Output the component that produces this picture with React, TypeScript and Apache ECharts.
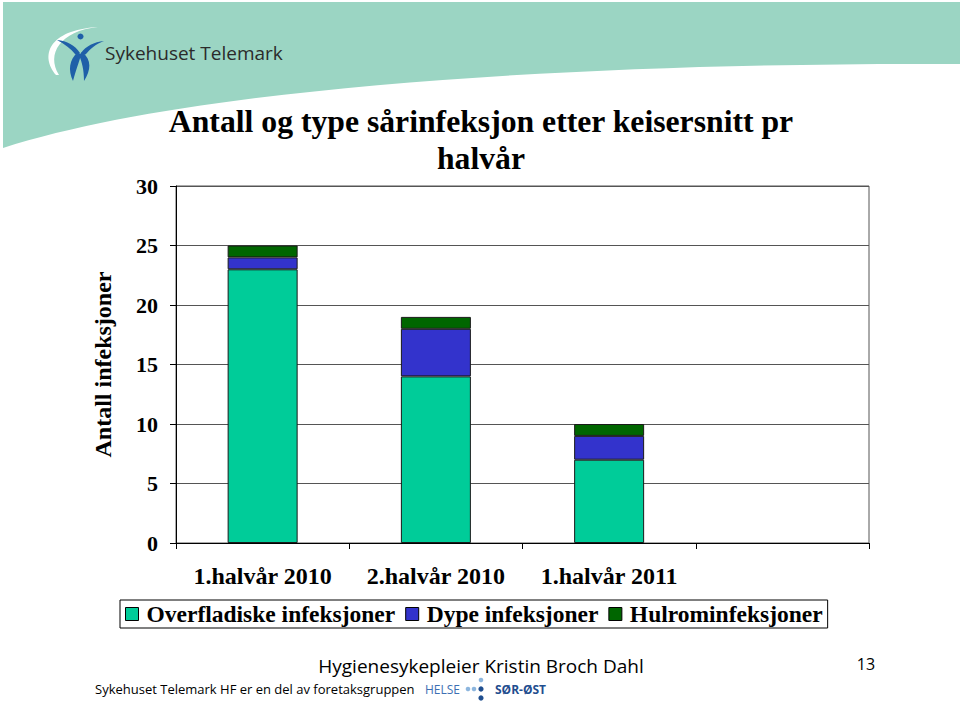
import React, { useEffect, useRef } from "react";
import * as echarts from "echarts";

const categories = ["1.halvår 2010", "2.halvår 2010", "1.halvår 2011", ""];
const seriesNames = ["Overfladiske infeksjoner", "Dype infeksjoner", "Hulrominfeksjoner"];
const overfladiske = [23, 14, 7, null];
const dype = [1, 4, 2, null];
const hulrom = [1, 1, 1, null];
const yTicks = { min: 0, max: 30, interval: 5 };
const colors = ["#00CC99", "#3333CC", "#006600"];

const SERIF = "'Liberation Serif', 'Times New Roman', serif";
const SANS = "'Open Sans', 'Noto Sans', sans-serif";

let registered = false;
function registerShapes() {
  if (registered) return;
  registered = true;
  const shapes: Record<string, string> = {
    band: "M3 2 H960 V64 C 600 62, 200 85, 3 148 Z",
    crescent: "M56 75 C 40 56, 48 30, 98 27 C 60 31, 46 54, 59 75 Z",
    larm: "M57 40 C 67 41, 75 45, 80 53 C 78 55, 76 55, 75 54 C 71 49, 65 44, 57 40 Z",
    rarm: "M104 41 C 94 42, 86 46, 81 53 C 83 55, 85 55, 86 54 C 90 49, 96 44, 104 41 Z",
    lleg: "M78 52 C 69 60, 68 70, 73 81 C 76 70, 79 62, 81 55 Z",
    rleg: "M82 52 C 92 60, 91 70, 84 81 C 84 70, 82 62, 79 55 Z",
  };
  Object.keys(shapes).forEach((k) => {
    echarts.graphic.registerShape(k, echarts.graphic.extendPath(shapes[k], {}) as any);
  });
}

export default function App() {
  const ref = useRef<HTMLDivElement>(null);
  useEffect(() => {
    if (!ref.current) return;
    registerShapes();
    const chart = echarts.init(ref.current, null, { renderer: "svg" });
    const mkSeries = (name: string, data: (number | null)[], color: string) => ({
      name,
      type: "bar",
      stack: "total",
      barWidth: 70,
      data,
      itemStyle: { color, borderColor: "#1a1a1a", borderWidth: 1 },
    });
    const blue = "#1F5FA8";
    chart.setOption({
      animation: false,
      backgroundColor: "#ffffff",
      graphic: [
        { type: "band", x: 0, y: 0, style: { fill: "#9BD5C3" }, z: 0 },
        { type: "crescent", x: 0, y: 0, style: { fill: "#ffffff" } },
        { type: "circle", shape: { cx: 80.5, cy: 36.5, r: 3 }, style: { fill: blue } },
        { type: "larm", x: 0, y: 0, style: { fill: blue } },
        { type: "rarm", x: 0, y: 0, style: { fill: blue } },
        { type: "lleg", x: 0, y: 0, style: { fill: blue } },
        { type: "rleg", x: 0, y: 0, style: { fill: blue } },
        {
          type: "text", x: 105, y: 53,
          style: { text: "Sykehuset Telemark", font: `19px ${SANS}`, fill: "#2b2b2b", verticalAlign: "middle" },
        },
        {
          type: "text", x: 481, y: 121,
          style: { text: "Antall og type sårinfeksjon etter keisersnitt pr", font: `bold 31.7px ${SERIF}`, fill: "#000", align: "center", verticalAlign: "middle" },
        },
        {
          type: "text", x: 481, y: 158,
          style: { text: "halvår", font: `bold 31.7px ${SERIF}`, fill: "#000", align: "center", verticalAlign: "middle" },
        },
        {
          type: "text", x: 481, y: 666,
          style: { text: "Hygienesykepleier Kristin Broch Dahl", font: `19px ${SANS}`, fill: "#000", align: "center", verticalAlign: "middle" },
        },
        {
          type: "text", x: 866, y: 664,
          style: { text: "13", font: `16px ${SANS}`, fill: "#000", align: "center", verticalAlign: "middle" },
        },
        {
          type: "text", x: 95, y: 689,
          style: { text: "Sykehuset Telemark HF er en del av foretaksgruppen", font: `13px ${SANS}`, fill: "#000", verticalAlign: "middle" },
        },
        {
          type: "text", x: 425, y: 689,
          style: { text: "HELSE", font: `12px ${SANS}`, fill: "#3D6FB3", verticalAlign: "middle" },
        },
        { type: "circle", shape: { cx: 468, cy: 689, r: 2.3 }, style: { fill: "#8DB6DE" } },
        { type: "circle", shape: { cx: 474, cy: 689, r: 2.3 }, style: { fill: "#8DB6DE" } },
        { type: "circle", shape: { cx: 481, cy: 689, r: 2.6 }, style: { fill: "#1F4E8F" } },
        { type: "circle", shape: { cx: 481, cy: 680, r: 2.3 }, style: { fill: "#8DB6DE" } },
        { type: "circle", shape: { cx: 481, cy: 698, r: 2.6 }, style: { fill: "#1F4E8F" } },
        {
          type: "text", x: 495, y: 689,
          style: { text: "SØR-ØST", font: `bold 12px ${SANS}`, fill: "#1F4E8F", verticalAlign: "middle" },
        },
      ],
      grid: {
        left: 176, right: 91, top: 186, bottom: 163,
        show: true, borderColor: "#555", borderWidth: 1, containLabel: false,
      },
      legend: {
        left: 120, top: 600,
        data: seriesNames,
        icon: "rect",
        itemWidth: 13, itemHeight: 13, itemGap: 10,
        borderColor: "#000", borderWidth: 1, padding: [2, 5, 2, 5],
        itemStyle: { borderColor: "#000", borderWidth: 1 },
        textStyle: { fontFamily: SERIF, fontWeight: "bold", fontSize: 23.5, color: "#000", padding: [0, 0, 0, 3] },
      },
      xAxis: {
        type: "category",
        data: categories,
        axisLine: { lineStyle: { color: "#000", width: 1 } },
        axisTick: { show: true, interval: 0, length: 6, lineStyle: { color: "#000" } },
        axisLabel: { interval: 0, hideOverlap: false, fontFamily: SERIF, fontWeight: "bold", fontSize: 24, color: "#000", margin: 21 },
      },
      yAxis: {
        type: "value",
        min: yTicks.min, max: yTicks.max, interval: yTicks.interval,
        name: "Antall infeksjoner",
        nameLocation: "middle",
        nameRotate: 90,
        nameGap: 61,
        nameTextStyle: { fontFamily: SERIF, fontWeight: "bold", fontSize: 24, color: "#000" },
        axisLine: { show: true, lineStyle: { color: "#000", width: 1 } },
        axisTick: { show: true, length: 6, lineStyle: { color: "#000" } },
        axisLabel: { fontFamily: SERIF, fontWeight: "bold", fontSize: 22, color: "#000", margin: 18 },
        splitLine: { show: true, lineStyle: { color: "#555", width: 1 } },
      },
      series: [
        mkSeries(seriesNames[0], overfladiske, colors[0]),
        mkSeries(seriesNames[1], dype, colors[1]),
        mkSeries(seriesNames[2], hulrom, colors[2]),
      ],
    });
    return () => chart.dispose();
  }, []);
  return <div ref={ref} style={{ position: "fixed", left: 0, top: 0, width: 960, height: 706 }} />;
}
